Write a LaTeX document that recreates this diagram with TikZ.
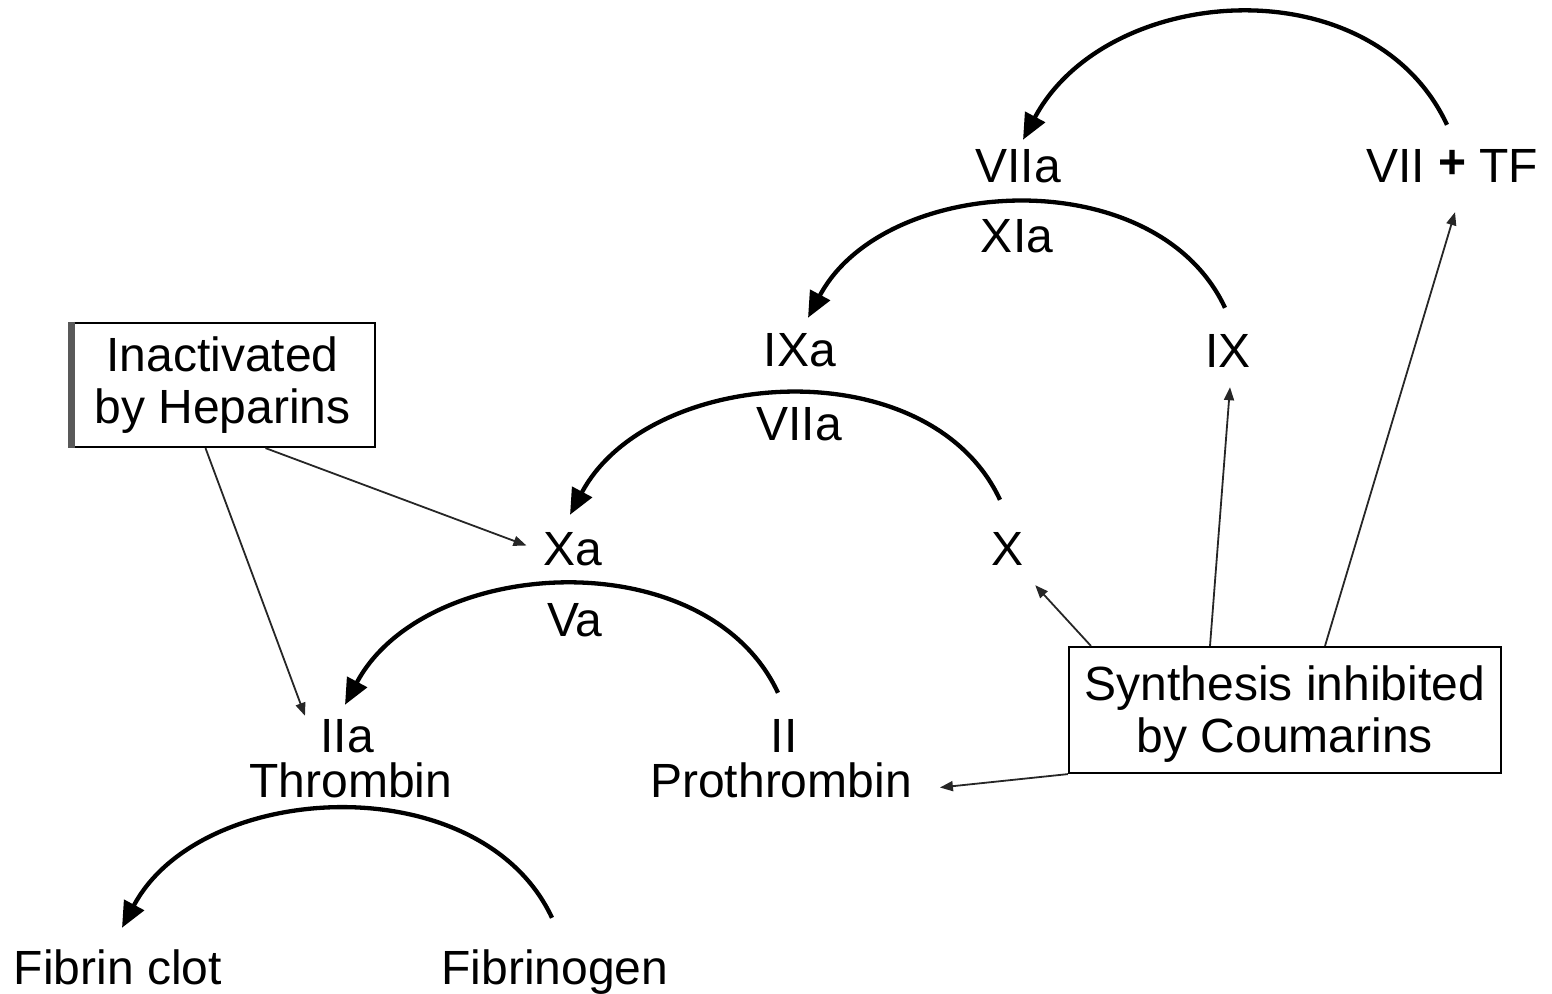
\documentclass[tikz,border=0pt]{standalone}
\usepackage{fontspec}
\setmainfont{Liberation Sans}
\usetikzlibrary{arrows.meta}
\begin{document}
\begin{tikzpicture}[x=1pt,y=-1pt,
  lbl/.style={font=\fontsize{48}{53}\selectfont, inner sep=0pt, anchor=base, text height=35pt, text depth=10pt},
  boxed/.style={draw, line width=2.2pt, font=\fontsize{48}{52}\selectfont, align=center, inner sep=0pt},
  conv/.style={line width=4.3pt, -{Triangle[length=26pt,width=22pt]}, out=115, in=62},
  inhib/.style={line width=1.8pt, draw=black!85, -{Triangle[length=13pt,width=10pt]}}]
\useasboundingbox (0,0) rectangle (1552,993);
% labels
\node[lbl] (v7a) at (1018,182) {VIIa};
\node[lbl] (v7tf) at (1452,182) {VII \raisebox{4pt}{\textbf{+}} TF};
\node[lbl] (x11a) at (1017,252) {XIa};
\node[lbl] (ixa) at (800,366) {IXa};
\node[lbl] (ix) at (1228,367) {IX};
\node[lbl] (v7b) at (799,440) {VIIa};
\node[lbl] (xa) at (573,565) {Xa};
\node[lbl] (x) at (1007,565) {X};
\node[lbl] (va) at (575,636) {Va};
\node[lbl] (iia) at (347,752) {IIa};
\node[lbl] (ii) at (784,752) {II};
\node[lbl] (thr) at (351,797) {Thrombin};
\node[lbl] (pro) at (781,797) {Prothrombin};
\node[lbl] (fc) at (118,984) {Fibrin clot};
\node[lbl] (fg) at (555,984) {Fibrinogen};
% boxes
\node[boxed, minimum width=305pt, minimum height=124pt] (hep) at (222.5,385) {Inactivated\\by Heparins};
\draw[line width=7pt, black!65] ([xshift=3pt]hep.north west) -- ([xshift=3pt]hep.south west);
\node[boxed, minimum width=432pt, minimum height=126pt] (cou) at (1285,710) {\rule{0pt}{43pt}Synthesis inhibited\\by Coumarins};
% conversion arcs
\draw[conv, looseness=1.07] ([xshift=-5pt,yshift=22pt]v7tf.north) to ([xshift=5pt,yshift=7pt]v7a.north);
\draw[conv] ([xshift=-3pt,yshift=24pt]ix.north) to ([xshift=8pt,yshift=13pt]ixa.north);
\draw[conv] ([xshift=-7pt,yshift=30pt]x.north) to ([xshift=-3pt,yshift=15pt]xa.north);
\draw[conv] ([xshift=-6pt,yshift=24pt]ii.north) to ([xshift=-2pt,yshift=12pt]iia.north);
\draw[conv] ([xshift=-3pt,yshift=31pt]fg.north) to ([xshift=4pt,yshift=21pt]fc.north);
% inhibitor arrows
\draw[inhib] ([xshift=-17pt]hep.south) -- ([xshift=-42pt,yshift=1pt]iia.north);
\draw[inhib] ([xshift=43pt]hep.south) -- ([xshift=-17pt,yshift=7pt]xa.west);
\draw[inhib] ([xshift=23pt]cou.north west) -- ([xshift=12pt,yshift=-10pt]x.south east);
\draw[inhib] ([xshift=-75pt]cou.north) -- ([xshift=2pt,yshift=-10pt]ix.south);
\draw[inhib] ([xshift=40pt]cou.north) -- ([xshift=3pt,yshift=-20pt]v7tf.south);
\draw[inhib] (cou.south west) -- ([xshift=28pt,yshift=-3pt]pro.east);
\end{tikzpicture}
\end{document}
